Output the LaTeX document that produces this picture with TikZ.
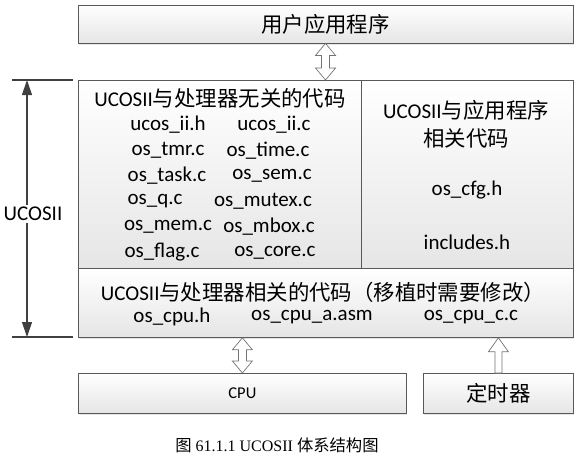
\documentclass[tikz,border=0pt]{standalone}
\usepackage{fontspec}
\setmainfont{Carlito}
\newfontfamily\cjk{Noto Sans CJK SC}[Scale=1.02]
\newfontfamily\capfont{Liberation Serif}
\usetikzlibrary{calc,arrows.meta,shadows}

% hollow double arrow, #1 = top end, #2 = bottom end
\newcommand\dblarrow[2]{\draw[hollow] let \p1=(#1), \p2=(#2) in
  (\x1,\y1) -- ++(10pt,-12pt) -- ++(-6pt,0pt) -- (\x1+4pt,\y2+12pt) -- ++(6pt,0pt) -- (\x1,\y2)
  -- ++(-10pt,12pt) -- ++(6pt,0pt) -- (\x1-4pt,\y1-12pt) -- ++(-6pt,0pt) -- cycle;}
% hollow single arrow pointing up
\newcommand\hollowup[2]{\draw[hollow] let \p1=(#1), \p2=(#2) in
  (\x1,\y1) -- ++(10pt,-14pt) -- ++(-6.5pt,0pt) -- (\x1+3.5pt,\y2) -- (\x1-3.5pt,\y2)
  -- (\x1-3.5pt,\y1-14pt) -- ++(-6.5pt,0pt) -- cycle;}

\begin{document}
\begin{tikzpicture}
  [x=1pt,y=-1pt,
  every node/.style={font=\fontsize{21}{25}\selectfont, inner sep=0pt},
  box/.style={draw=black!65, line width=0.8pt, top color=white, bottom color=black!10,
    drop shadow={shadow xshift=1pt, shadow yshift=-1.5pt, opacity=.2}},
  hollow/.style={draw=black!55, fill=white, line width=0.7pt},
  dim/.style={draw=black!75, line width=1.2pt},
  ]
  \useasboundingbox (0,0) rectangle (580,459);
  % boxes
  \node[box, minimum width=495pt, minimum height=38pt] (app) at (325.5,24) {{\cjk 用户应用程序}};
  \node[box, minimum width=283pt, minimum height=188pt, anchor=north west] (indep) at (78,80) {};
  \node[box, minimum width=212pt, minimum height=188pt, anchor=north west] (appdep) at (361,80) {};
  \node[box, minimum width=495pt, minimum height=69pt, anchor=north west] (port) at (78,268) {};
  \node[box, minimum width=328pt, minimum height=40pt, anchor=north west] (cpu) at (78,373)
    {\fontsize{16.5}{19}\selectfont CPU};
  \node[box, minimum width=150pt, minimum height=40pt, anchor=north west] (timer) at (423,373)
    {{\cjk 定时器}};

  % code independent of the processor
  \node (indeptitle) at (220,98) {UCOSII{\cjk 与处理器无关的代码}};
  \foreach \l/\lx/\r/\rx [count=\i] in {ucos\_ii.h/168/ucos\_ii.c/274, os\_tmr.c/168/os\_time.c/268,
      os\_task.c/167/os\_sem.c/272, os\_q.c/155/os\_mutex.c/263,
      os\_mem.c/168/os\_mbox.c/269, os\_flag.c/162/os\_core.c/275}
    {\node (l\i) at (\lx,99.5+25.5*\i) {\l};
     \node (r\i) at (\rx,99.5+25.5*\i) {\r};}

  % code for the application
  \node (appdeptitle) at (466,110) {UCOSII{\cjk 与应用程序}};
  \node (appdeptitleb) at (466,138) {\cjk 相关代码};
  \node (cfg) at (467,190) {os\_cfg.h};
  \node (incl) at (467,242) {includes.h};

  % code for the port
  \node (porttitle) at (323,292) {UCOSII{\cjk 与处理器相关的代码（移植时需要修改）}};
  \node (cpuh) at (172,317) {os\_cpu.h};
  \node (cpua) at (312,317) {os\_cpu\_a.asm};
  \node (cpuc) at (471,317) {os\_cpu\_c.c};

  % arrows between layers
  \dblarrow{app.south}{app.south |- indep.north}
  \dblarrow{cpu.north |- port.south}{cpu.north}
  \hollowup{timer.north |- port.south}{timer.north}

  % extent of UCOSII
  \coordinate (tickTa) at (12,80);   \coordinate (tickTb) at (73,80);
  \coordinate (tickBa) at (12,337);  \coordinate (tickBb) at (73,337);
  \coordinate (dimT) at (27,80);     \coordinate (dimB) at (27,337);
  \draw[dim] (tickTa) -- (tickTb);
  \draw[dim] (tickBa) -- (tickBb);
  \draw[dim, {Triangle[width=10pt,length=15pt]}-{Triangle[width=10pt,length=15pt]}] (dimT) -- (dimB);
  \node[fill=white, inner sep=2pt] (ucos) at (33,214) {UCOSII};

  % caption
  \node[font=\fontsize{16}{19}\selectfont\capfont] (cap) at (277,445)
    {{\cjk 图} 61.1.1 UCOSII {\cjk 体系结构图}};
\end{tikzpicture}
\end{document}
